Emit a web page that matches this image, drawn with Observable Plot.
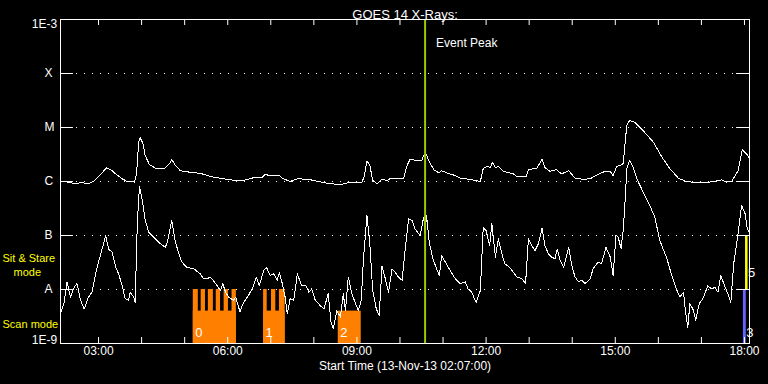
<!DOCTYPE html>
<html><head><meta charset="utf-8">
<script src="https://cdn.jsdelivr.net/npm/d3@7"></script>
<script src="https://cdn.jsdelivr.net/npm/@observablehq/plot@0.6"></script>
<style>
html,body{margin:0;padding:0;background:#000;}
#chart{width:768px;height:384px;overflow:hidden;}
</style></head><body><div id="chart"></div>
<script>
// ---- Data (times are minutes after 13-Nov-13 02:07:00 UT; flux as log10 W/m^2) ----
const titleText = "GOES 14 X-Rays:";
const xTitleText = "Start Time (13-Nov-13 02:07:00)";
const domainMinutes = [0, 960];

// Long channel (1-8 A)
const longT = [0,9,21,28,39,46,53,64,70,77,
  86,93,103,106,109,111,115,118,124,132,
  146,152,155,160,167,181,195,213,232,248,
  258,269,281,285,292,304,309,320,332,341,
  346,355,371,390,404,420,423,427,431,435,
  441,448,455,459,478,483,487,497,503,506,
  509,513,520,527,531,538,550,557,571,585,
  589,594,599,602,606,610,617,631,636,649,
  652,664,671,675,682,691,698,708,717,728,
  738,747,759,766,770,775,780,784,789,793,
  800,812,826,838,849,861,872,886,900,914,
  921,928,935,944,950,956,960];
const longLog = [-6.00,-6.01,-6.04,-6.02,-6.04,-6.00,-5.91,-5.75,-5.78,-5.86,
  -5.95,-6.00,-6.01,-5.85,-5.27,-5.19,-5.30,-5.52,-5.69,-5.75,
  -5.75,-5.67,-5.59,-5.70,-5.80,-5.83,-5.85,-5.92,-5.96,-5.99,
  -5.97,-5.93,-5.92,-5.87,-5.89,-5.88,-5.94,-6.00,-5.94,-5.97,
  -5.96,-5.99,-6.03,-6.06,-6.01,-6.01,-5.92,-5.62,-5.70,-5.98,
  -6.04,-5.96,-5.98,-5.95,-5.94,-5.70,-5.59,-5.61,-5.62,-5.52,
  -5.48,-5.61,-5.78,-5.84,-5.80,-5.84,-5.89,-5.94,-5.96,-6.00,
  -5.76,-5.72,-5.74,-5.64,-5.74,-5.72,-5.81,-5.86,-5.91,-5.91,
  -5.78,-5.75,-5.59,-5.74,-5.81,-5.78,-5.86,-5.80,-5.94,-5.96,
  -5.95,-5.88,-5.81,-5.81,-5.89,-5.72,-5.70,-5.67,-4.96,-4.87,
  -4.90,-5.06,-5.27,-5.55,-5.76,-5.94,-6.00,-6.02,-6.02,-5.99,
  -5.97,-6.01,-6.00,-5.80,-5.41,-5.49,-5.57];

// Short channel (0.5-4 A)
const shortT = [0,5,9,14,19,23,28,33,39,44,
  49,53,58,63,67,72,77,81,86,90,
  95,97,102,104,107,110,114,118,123,132,
  139,146,149,155,160,165,169,176,186,195,
  199,204,209,216,223,226,230,234,241,244,
  250,255,262,269,273,277,283,287,292,297,
  302,305,309,313,316,320,325,330,336,342,
  346,350,355,362,367,373,377,380,385,390,
  394,397,401,406,411,415,419,422,427,431,
  435,440,444,448,452,457,462,466,471,476,
  480,485,490,494,501,506,508,510,514,519,
  524,528,531,536,543,550,557,564,568,573,
  579,585,589,593,598,601,606,610,615,619,
  626,631,636,643,648,652,657,661,666,671,
  675,680,684,689,692,696,701,708,713,717,
  722,726,731,738,742,749,754,760,766,770,
  774,777,781,784,787,789,793,798,803,812,
  821,828,835,845,851,858,863,868,871,874,
  877,882,885,890,895,902,907,912,916,920,
  926,930,934,938,944,949,954,957,960];
const shortLog = [-8.45,-8.24,-7.86,-8.14,-7.96,-7.89,-8.20,-8.36,-8.14,-8.05,
  -7.71,-7.49,-7.25,-7.00,-7.25,-7.31,-7.59,-7.71,-7.93,-8.17,
  -8.20,-8.05,-8.14,-8.24,-6.78,-6.09,-6.35,-6.72,-6.94,-7.06,
  -7.15,-7.22,-7.12,-6.72,-7.12,-7.34,-7.49,-7.59,-7.62,-7.71,
  -7.80,-7.80,-7.77,-7.89,-8.02,-7.89,-8.05,-8.14,-8.20,-8.14,
  -8.41,-8.24,-8.11,-7.93,-7.77,-7.93,-7.65,-7.59,-7.74,-7.71,
  -7.83,-7.68,-7.89,-8.14,-8.45,-8.17,-8.20,-7.71,-7.93,-7.93,
  -8.05,-7.99,-8.20,-8.30,-8.36,-8.08,-8.61,-8.73,-8.39,-8.51,
  -8.08,-8.39,-7.77,-8.08,-8.26,-8.39,-8.20,-7.46,-6.63,-7.15,
  -8.02,-8.36,-8.48,-7.56,-7.77,-8.05,-7.62,-7.68,-7.77,-7.83,
  -7.28,-6.69,-6.72,-6.88,-7.00,-6.66,-6.97,-6.63,-7.15,-7.43,
  -7.62,-7.74,-7.37,-7.49,-7.65,-7.80,-7.89,-7.86,-7.99,-8.05,
  -8.24,-8.02,-6.85,-6.91,-7.19,-6.78,-7.40,-7.06,-7.34,-7.52,
  -7.59,-7.68,-7.77,-7.80,-7.89,-7.06,-7.19,-7.28,-7.15,-6.86,
  -7.19,-7.34,-7.40,-7.43,-7.25,-7.46,-7.59,-7.22,-7.59,-7.77,
  -7.86,-7.83,-7.89,-7.80,-7.62,-7.49,-7.52,-7.22,-7.40,-7.74,
  -7.00,-7.03,-7.24,-6.91,-6.29,-5.76,-5.61,-5.74,-5.95,-6.20,
  -6.44,-6.66,-7.09,-7.43,-7.71,-7.99,-8.14,-8.05,-8.42,-8.70,
  -8.26,-8.39,-8.57,-8.26,-8.17,-7.93,-7.99,-7.96,-8.05,-7.74,
  -7.96,-8.08,-8.24,-7.52,-6.97,-6.44,-6.60,-6.88,-6.94];

// Event peak (10:35 UT)
const eventPeakMin = 508;
const eventLabel = "Event Peak";

// Scan-mode rasters (orange)
const rasterStart = [185, 283, 387];
const rasterEnd   = [245, 313, 419];
const rasterLabel = ["0", "1", "2"];
const rasterBaseLog = -8.4;
// raster steps (teeth reaching the A level)
const stepStart = [185, 196, 206, 217, 228, 239, 283, 294, 305];
const stepEnd   = [192, 202, 213, 223, 234, 245, 288, 300, 313];

// Observations at the right edge
const sitStareStart = [954.5], sitStareEnd = [958], sitStareLabel = ["5"];
const scanStart = [951.5], scanEnd = [955.5], scanLabel = ["3"];

// Axis ticks
const hourTicks = [53,113,173,233,293,353,413,473,533,593,653,713,773,833,893,953];
const xTickMinutes = [53, 233, 413, 593, 773, 953];
const xTickLabels = ["03:00","06:00","09:00","12:00","15:00","18:00"];
const yLevels = [1e-3, 1e-4, 1e-5, 1e-6, 1e-7, 1e-8, 1e-9];
const yLabels = ["1E-3", "X", "M", "C", "B", "A", "1E-9"];

// ---- Build tables ----
const longData = longT.map((t, i) => ({t, f: 10 ** longLog[i]}));
const shortData = shortT.map((t, i) => ({t, f: 10 ** shortLog[i]}));
const rasters = rasterStart.map((s, i) => ({start: s, end: rasterEnd[i], label: rasterLabel[i]}));
const steps = stepStart.map((s, i) => ({start: s, end: stepEnd[i]}));
const gridLevels = yLevels.slice(1, -1);
const innerLabels = gridLevels.map((y, i) => ({y, label: yLabels[i + 1]}));
const sitStare = sitStareStart.map((s, i) => ({start: s, end: sitStareEnd[i], label: sitStareLabel[i]}));
const scan = scanStart.map((s, i) => ({start: s, end: scanEnd[i], label: scanLabel[i]}));

const W = "#ffffff", ORANGE = "#ff8000", YELLOW = "#ffff00", BLUE = "#6666ff", GREEN = "#99cc00";
const tickDec = 6 / 54;     // tick length in decades
const tickMin = 18;         // y-tick length in minutes

const plot = Plot.plot({
  width: 768, height: 384,
  marginLeft: 60, marginRight: 19, marginTop: 19, marginBottom: 41,
  style: {background: "#000", color: W, fontFamily: "Liberation Sans, Arial, sans-serif", fontSize: "12px"},
  x: {type: "linear", domain: domainMinutes, axis: null},
  y: {type: "log", domain: [1e-9, 1e-3], axis: null},
  marks: [
    Plot.ruleY(gridLevels, {y: d => d, stroke: W, strokeDasharray: "1,7"}),
    Plot.rect(rasters, {x1: "start", x2: "end", y1: 1e-9, y2: 10 ** rasterBaseLog, fill: ORANGE}),
    Plot.rect(steps, {x1: "start", x2: "end", y1: 1e-9, y2: 1e-8, fill: ORANGE}),
    Plot.rect(sitStare, {x1: "start", x2: "end", y1: 1e-8, y2: 1e-7, fill: YELLOW}),
    Plot.rect(scan, {x1: "start", x2: "end", y1: 1e-9, y2: 1e-8, fill: BLUE}),
    Plot.text(rasters, {x: "start", y: 10 ** -8.8, text: "label", textAnchor: "start", dx: 2, fill: W, fontSize: 13}),
    Plot.text(sitStare, {x: "end", y: 10 ** -7.69, text: "label", textAnchor: "start", dx: 0, fill: W, fontSize: 13}),
    Plot.text(scan, {x: "end", y: 10 ** -8.8, text: "label", textAnchor: "start", dx: 0, fill: W, fontSize: 13}),
    Plot.line(shortData, {x: "t", y: "f", stroke: W, strokeWidth: 1, shapeRendering: "crispEdges"}),
    Plot.line(longData, {x: "t", y: "f", stroke: W, strokeWidth: 1, shapeRendering: "crispEdges"}),
    Plot.ruleX([eventPeakMin], {x: d => d, stroke: GREEN, strokeWidth: 2}),
    Plot.text([eventLabel], {x: eventPeakMin, y: 10 ** -3.44, text: d => d, textAnchor: "start", dx: 11, fill: W}),
    Plot.frame({stroke: W}),
    Plot.ruleX(hourTicks, {x: d => d, y1: 1e-9, y2: 10 ** (-9 + tickDec), stroke: W}),
    Plot.ruleX(hourTicks, {x: d => d, y1: 1e-3, y2: 10 ** (-3 - tickDec), stroke: W}),
    Plot.ruleY(yLevels, {y: d => d, x1: domainMinutes[0], x2: domainMinutes[0] + tickMin, stroke: W}),
    Plot.ruleY(yLevels, {y: d => d, x1: domainMinutes[1] - tickMin, x2: domainMinutes[1], stroke: W}),
    Plot.text(xTickMinutes, {x: d => d, text: (d, i) => xTickLabels[i], frameAnchor: "bottom", dy: 11, fill: W}),
    Plot.text([xTitleText], {text: d => d, frameAnchor: "bottom", dy: 26, fill: W}),
    Plot.text([titleText], {text: d => d, frameAnchor: "top", dy: -10, fill: W, fontSize: 13}),
    Plot.text(innerLabels, {y: "y", text: "label", frameAnchor: "left", dx: -16, fill: W}),
    Plot.text([yLabels[0]], {text: d => d, frameAnchor: "top-left", lineAnchor: "top", textAnchor: "middle", dx: -16, fill: W}),
    Plot.text([yLabels[6]], {text: d => d, frameAnchor: "bottom-left", lineAnchor: "bottom", textAnchor: "middle", dx: -16, fill: W}),
    Plot.text(["Sit & Stare"], {text: d => d, y: 10 ** -7.42, frameAnchor: "left", textAnchor: "start", dx: -58, fill: YELLOW, fontSize: 11}),
    Plot.text(["mode"], {text: d => d, y: 10 ** -7.69, frameAnchor: "left", textAnchor: "start", dx: -47, fill: YELLOW, fontSize: 11}),
    Plot.text(["Scan mode"], {text: d => d, y: 10 ** -8.65, frameAnchor: "left", textAnchor: "start", dx: -58, fill: YELLOW, fontSize: 11})
  ]
});
document.getElementById("chart").appendChild(plot);
</script>
</body></html>
